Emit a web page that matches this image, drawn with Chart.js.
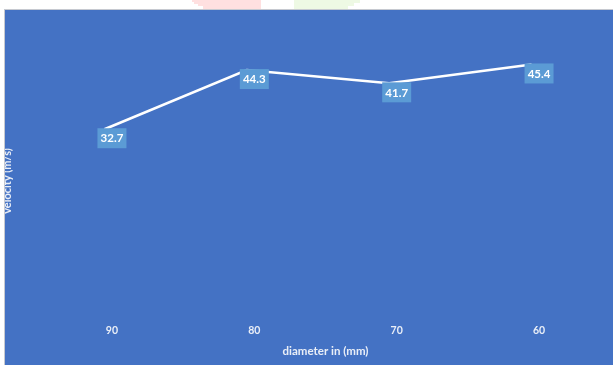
<!DOCTYPE html>
<html>
<head>
<meta charset="utf-8">
<script src="https://cdn.jsdelivr.net/npm/chart.js@4/dist/chart.umd.min.js"></script>
<style>
  html, body { margin: 0; padding: 0; background: #ffffff; width: 613px; height: 365px; overflow: hidden; }
  #frame {
    position: absolute; left: 4px; top: 9px; width: 609px; height: 356px;
    box-sizing: border-box; background: #4472C4;
    border-left: 1px solid #c6c9d0; border-top: 1px solid #c6c9d0;
  }
  #chart { position: absolute; left: 0; top: 0; }
  .blot { position: absolute; }
  .pink { background: #ffe0e0; }
  .green { background: #eef9e4; }
</style>
</head>
<body>
<div class="blot pink" style="left:192px;top:0;width:69px;height:2px"></div>
<div class="blot pink" style="left:194px;top:2px;width:67px;height:1.5px"></div>
<div class="blot pink" style="left:198px;top:3.5px;width:63px;height:2.5px"></div>
<div class="blot pink" style="left:203px;top:6px;width:58px;height:3px"></div>
<div class="blot green" style="left:294px;top:0;width:66px;height:3px"></div>
<div class="blot green" style="left:294px;top:3px;width:60px;height:3px"></div>
<div class="blot green" style="left:294px;top:6px;width:54px;height:3px"></div>
<div id="frame"><canvas id="chart" width="608" height="355"></canvas></div>
<script>
// Pipe diameter (mm) against measured velocity (m/s)
const categories = ['90', '80', '70', '60'];
const velocities = [32.7, 44.3, 41.7, 45.4];
const yMin = 0;
const yMax = 50;

const xTitle = 'diameter in (mm)';
const yTitle = 'velocity (m/s)';

const textColor = '#e9eef7';
const labelBoxColor = '#5B9BD5';
const fontFamily = 'Lato, "Open Sans", sans-serif';

// The line itself sits a little left of its category centres
const lineShift = -7.5;

const shiftLine = {
  id: 'shiftLine',
  beforeDatasetDraw(chart) {
    chart.ctx.save();
    chart.ctx.translate(lineShift, 0);
  },
  afterDatasetDraw(chart) {
    chart.ctx.restore();
  }
};

// Value boxes under each point
const valueBoxes = {
  id: 'valueBoxes',
  afterDatasetsDraw(chart) {
    const ctx = chart.ctx;
    const meta = chart.getDatasetMeta(0);
    const data = chart.data.datasets[0].data;
    const w = 29, h = 20;
    ctx.save();
    ctx.font = 'bold 11.5px ' + fontFamily;
    ctx.textAlign = 'center';
    ctx.textBaseline = 'middle';
    meta.data.forEach((pt, i) => {
      const left = pt.x - w / 2;
      const top = pt.y - 1;
      ctx.fillStyle = labelBoxColor;
      ctx.fillRect(left, top, w, h);
      ctx.fillStyle = '#ffffff';
      ctx.fillText(String(data[i]), pt.x, top + h / 2 + 0.5);
    });
    ctx.restore();
  }
};

// Rotated y-axis caption, partly running off the left edge
const yCaption = {
  id: 'yCaption',
  afterDraw(chart) {
    const ctx = chart.ctx;
    ctx.save();
    ctx.translate(2.5, 181 - 10);
    ctx.rotate(-Math.PI / 2);
    ctx.font = 'bold 11px ' + fontFamily;
    ctx.fillStyle = textColor;
    ctx.textAlign = 'center';
    ctx.textBaseline = 'middle';
    ctx.fillText(yTitle, 0, 0);
    ctx.restore();
  }
};

new Chart(document.getElementById('chart'), {
  type: 'line',
  data: {
    labels: categories,
    datasets: [{
      data: velocities,
      borderColor: '#ffffff',
      borderWidth: 2.5,
      pointRadius: 0,
      pointHoverRadius: 0,
      fill: false,
      tension: 0
    }]
  },
  options: {
    responsive: false,
    devicePixelRatio: 1,
    animation: false,
    layout: { padding: { top: 31, right: 2.75, bottom: 0, left: 0 } },
    plugins: {
      legend: { display: false },
      tooltip: { enabled: false }
    },
    scales: {
      x: {
        type: 'category',
        offset: true,
        grid: { display: false, drawTicks: false },
        border: { display: false },
        ticks: {
          color: textColor,
          font: { family: fontFamily, size: 10.5, weight: 'bold' },
          padding: 28,
          maxRotation: 0
        },
        title: {
          display: true,
          text: xTitle,
          color: textColor,
          font: { family: fontFamily, size: 11.5, weight: 'bold' },
          padding: { top: 0, bottom: 6.7 }
        },
        afterFit(scale) { scale.height = 69; }
      },
      y: {
        min: yMin,
        max: yMax,
        grid: { display: false, drawTicks: false },
        border: { display: false },
        ticks: { display: false },
        afterFit(scale) { scale.width = 35.75; }
      }
    }
  },
  plugins: [shiftLine, valueBoxes, yCaption]
});
</script>
</body>
</html>
